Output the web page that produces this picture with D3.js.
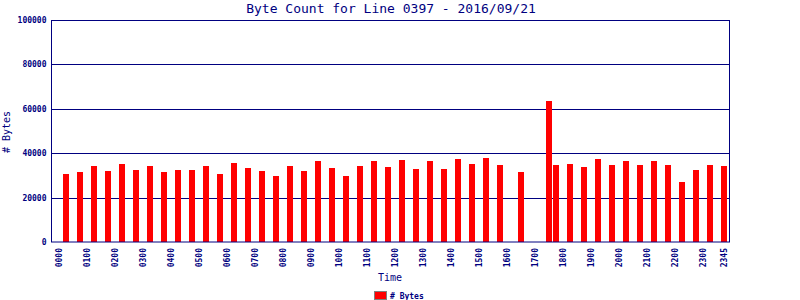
<!DOCTYPE html>
<html>
<head>
<meta charset="utf-8">
<script src="https://cdn.jsdelivr.net/npm/d3@7"></script>
<style>
  body { margin: 0; background: #fff; }
  text { font-family: "DejaVu Sans Mono", monospace; fill: #000080; }
</style>
</head>
<body>
<div id="chart"></div>
<script>
// Byte counts per 15 minute slot (only slots that have data)
const barTimes = ["0015","0045","0115","0145","0215","0245","0315","0345","0415","0445",
  "0515","0545","0615","0645","0715","0745","0815","0845","0915","0945",
  "1015","1045","1115","1145","1215","1245","1315","1345","1415","1445",
  "1515","1545","1630","1730","1745","1815","1845","1915","1945","2015",
  "2045","2115","2145","2215","2245","2315","2345"];
const byteCounts = [30700,31600,34300,32000,35200,32500,34300,31600,32500,32500,
  34300,30700,35600,33400,32000,29800,34300,32000,36500,33400,
  29800,34300,36500,33800,37000,32900,36500,32900,37400,35200,
  37900,34700,31600,63500,34700,35200,33800,37400,34700,36500,
  34700,36500,34700,27100,32500,34700,34300];
const xTickLabels = ["0000","0100","0200","0300","0400","0500","0600","0700","0800","0900",
  "1000","1100","1200","1300","1400","1500","1600","1700","1800","1900",
  "2000","2100","2200","2300","2345"];
const yTicks = [0, 20000, 40000, 60000, 80000, 100000];

const W = 800, H = 300;
const plotL = 51.5, plotR = 730.5, plotT = 20, plotB = 242;

const toMin = s => +s.slice(0, 2) * 60 + +s.slice(2);

const svg = d3.select("#chart").append("svg")
  .attr("width", W)
  .attr("height", H);

const x = d3.scaleLinear().domain([-15, 1440]).range([plotL, plotR]);
const y = d3.scaleLinear().domain([0, 100000]).range([plotB, plotT]);

// grid lines
svg.append("g")
  .selectAll("line")
  .data(yTicks.slice(1, -1))
  .join("line")
  .attr("x1", plotL).attr("x2", plotR - 1)
  .attr("y1", d => Math.round(y(d)) + 0.5)
  .attr("y2", d => Math.round(y(d)) + 0.5)
  .attr("stroke", "#000080")
  .attr("stroke-width", 1);

// bars
svg.append("g")
  .selectAll("rect")
  .data(barTimes.map((t, i) => ({ t, v: byteCounts[i] })))
  .join("rect")
  .attr("x", d => Math.round(x(toMin(d.t)) - 2.5))
  .attr("width", 6)
  .attr("y", d => Math.round(y(d.v)))
  .attr("height", d => plotB - Math.round(y(d.v)))
  .attr("fill", "#ff0000");

// frame
svg.append("rect")
  .attr("x", plotL).attr("y", plotT + 0.5)
  .attr("width", plotR - plotL - 1).attr("height", plotB - plotT - 0.5)
  .attr("fill", "none")
  .attr("stroke", "#000080")
  .attr("stroke-width", 1);

// y axis labels
const yAxis = svg.append("g")
  .attr("transform", `translate(${plotL},0)`)
  .call(d3.axisLeft(y).tickValues(yTicks).tickSize(0).tickPadding(5).tickFormat(d3.format("d")));
yAxis.select(".domain").remove();
yAxis.selectAll("text")
  .style("font-family", "'DejaVu Sans Mono', monospace")
  .style("font-size", "8px")
  .style("font-weight", "bold")
  .attr("fill", "#000080");

// x axis labels
svg.append("g")
  .selectAll("text")
  .data(xTickLabels)
  .join("text")
  .attr("transform", d => `translate(${x(toMin(d)) + 3},248) rotate(-90)`)
  .attr("text-anchor", "end")
  .style("font-size", "8px")
  .style("font-weight", "bold")
  .text(d => d);

// titles
svg.append("text")
  .attr("x", 391).attr("y", 13)
  .attr("text-anchor", "middle")
  .style("font-size", "13px")
  .text("Byte Count for Line 0397 - 2016/09/21");

svg.append("text")
  .attr("x", 390).attr("y", 281)
  .attr("text-anchor", "middle")
  .style("font-size", "10px")
  .text("Time");

svg.append("text")
  .attr("transform", "translate(10,132) rotate(-90)")
  .attr("text-anchor", "middle")
  .style("font-size", "10px")
  .text("# Bytes");

// legend
svg.append("rect")
  .attr("x", 374.5).attr("y", 291.5)
  .attr("width", 12).attr("height", 8)
  .attr("fill", "#ff0000")
  .attr("stroke", "#808080");

svg.append("text")
  .attr("x", 390).attr("y", 298.5)
  .style("font-size", "8px")
  .style("font-weight", "bold")
  .text("# Bytes");
</script>
</body>
</html>
